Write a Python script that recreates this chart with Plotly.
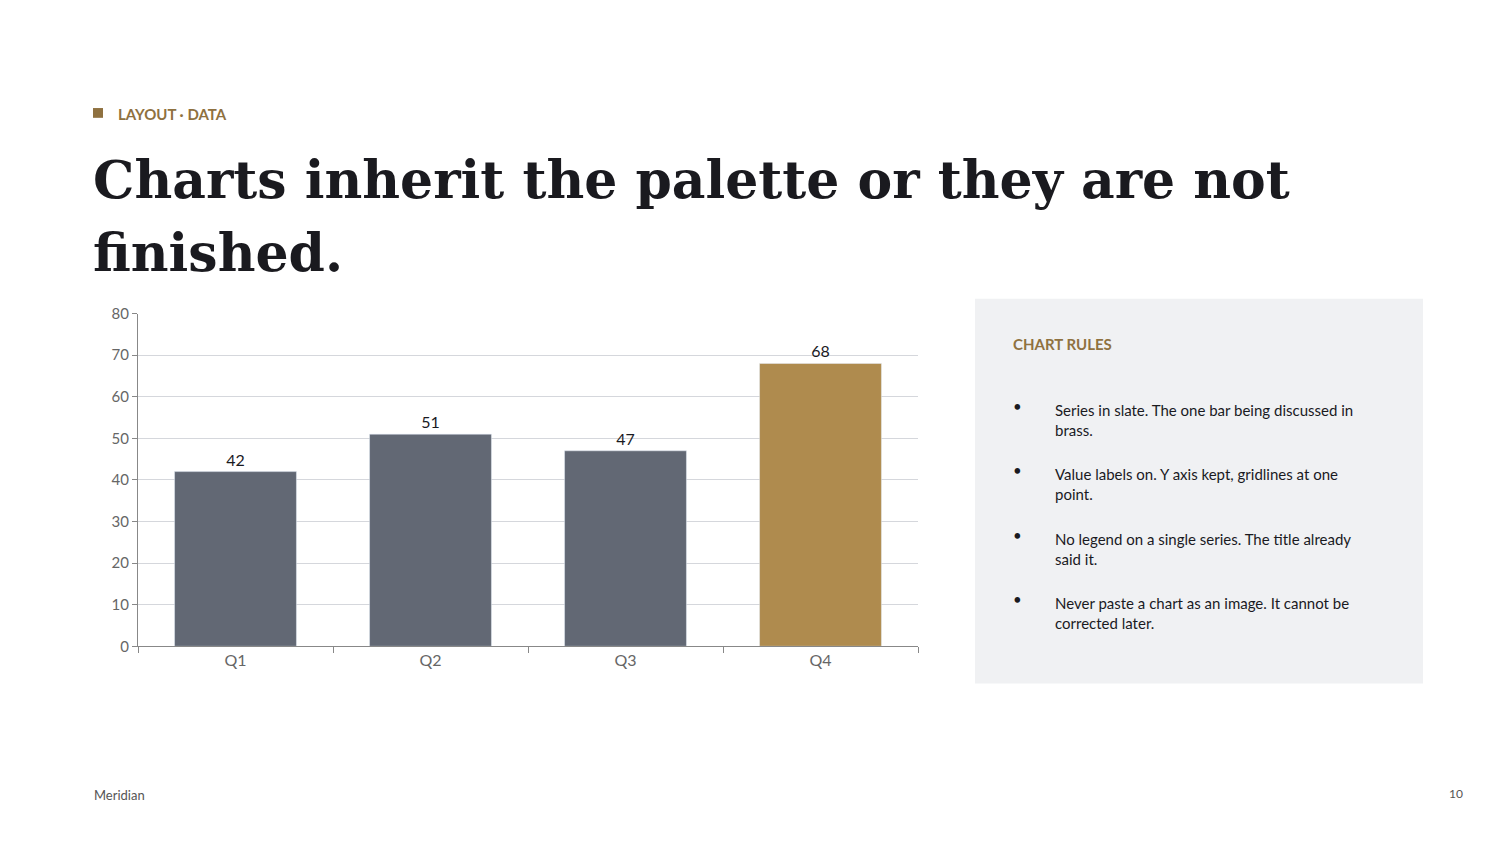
import plotly.graph_objects as go

categories = ["Q1", "Q2", "Q3", "Q4"]
values = [42, 51, 47, 68]
colors = ["#626874", "#626874", "#626874", "#af8b4e"]
y_ticks = [0, 10, 20, 30, 40, 50, 60, 70, 80]
rules = [
    "Series in slate. The one bar being discussed in<br>brass.",
    "Value labels on. Y axis kept, gridlines at one<br>point.",
    "No legend on a single series. The title already<br>said it.",
    "Never paste a chart as an image. It cannot be<br>corrected later.",
]

W, H = 1500, 843
def px(x): return x / W
def py(y): return 1 - y / H

fig = go.Figure(go.Bar(
    x=categories, y=values, marker_color=colors, width=0.625,
    text=values, textposition="outside", cliponaxis=False,
    textfont=dict(family="Lato", size=16, color="#1a1a1f"),
))

fig.update_layout(
    width=W, height=H, margin=dict(l=0, r=0, t=0, b=0),
    paper_bgcolor="white", plot_bgcolor="white", showlegend=False,
    font=dict(family="Lato", color="#666"),
    xaxis=dict(domain=[px(130), px(910)], showline=True, linecolor="#888",
               ticks="outside", tickcolor="#888", ticklen=6,
               tickfont=dict(size=16, color="#666"), showgrid=False,
               tickson="boundaries"),
    yaxis=dict(domain=[py(642), py(302)], range=[0, 80], tickvals=y_ticks,
               showline=True, linecolor="#888", ticks="outside", tickcolor="#888",
               ticklen=5, gridcolor="#d5d7dc", tickfont=dict(size=15, color="#666"),
               zeroline=False),
    shapes=[
        dict(type="rect", xref="paper", yref="paper", x0=px(85), x1=px(95),
             y0=py(102), y1=py(92), fillcolor="#8f7140", line_width=0),
        dict(type="rect", xref="paper", yref="paper", x0=px(967), x1=px(1415),
             y0=py(680), y1=py(287), fillcolor="#f0f1f3", line_width=0, layer="below"),
    ],
)

ann = []
ann.append(dict(x=px(108), y=py(98), text="<b>LAYOUT · DATA</b>", xanchor="left",
                yanchor="middle", font=dict(family="Lato", size=15, color="#8f7140")))
ann.append(dict(x=px(83), y=py(165), text="<b>Charts inherit the palette or they are not</b>",
                xanchor="left", yanchor="middle",
                font=dict(family="DejaVu Serif", size=52, color="#1a1a1f")))
ann.append(dict(x=px(83), y=py(240), text="<b>finished.</b>", xanchor="left", yanchor="middle",
                font=dict(family="DejaVu Serif", size=52, color="#1a1a1f")))
ann.append(dict(x=px(1003), y=py(333), text="<b>CHART RULES</b>", xanchor="left",
                yanchor="middle", font=dict(family="Lato", size=15, color="#8f7140")))
for i, r in enumerate(rules):
    y0 = 400 + i * 66
    ann.append(dict(x=px(1003), y=py(y0 - 4), text="•", xanchor="left", yanchor="middle",
                    font=dict(family="Lato", size=15, color="#1a1a1f")))
    ann.append(dict(x=px(1045), y=py(y0 - 11), text=r, xanchor="left", yanchor="top",
                    align="left", font=dict(family="Lato", size=15, color="#1a1a1f")))
ann.append(dict(x=px(84), y=py(794), text="Meridian", xanchor="left", yanchor="middle",
                font=dict(family="Lato", size=13, color="#555")))
ann.append(dict(x=px(1457), y=py(792), text="10", xanchor="right", yanchor="middle",
                font=dict(family="Lato", size=12, color="#555")))
for a in ann:
    a.update(xref="paper", yref="paper", showarrow=False)
fig.update_layout(annotations=ann)

fig.write_html("out.html")
